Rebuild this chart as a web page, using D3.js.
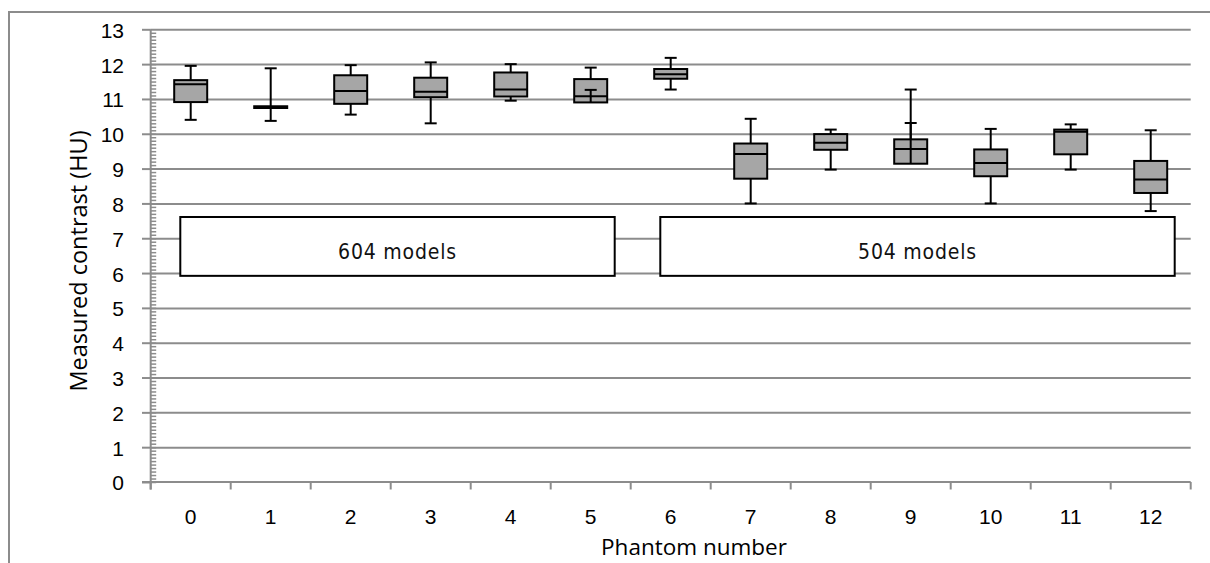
<!DOCTYPE html>
<html>
<head>
<meta charset="utf-8">
<script src="https://cdn.jsdelivr.net/npm/d3@7/dist/d3.min.js"></script>
<style>
  body { margin: 0; background: #fff; }
  svg { display: block; font-family: "Open Sans", sans-serif; }
</style>
</head>
<body>
<div id="canvas"></div>
<script>
// phantom numbers and box-plot statistics (HU)
var phantoms = [0, 1, 2, 3, 4, 5, 6, 7, 8, 9, 10, 11, 12];
var maxVals  = [11.95, 11.88, 11.97, 12.05, 12.00, 11.90, 12.18, 10.43, 10.12, 11.27, 10.14, 10.27, 10.10];
var q3Vals   = [11.54, 10.79, 11.68, 11.61, 11.76, 11.57, 11.86, 9.72, 9.99, 9.84, 9.55, 10.12, 9.22];
var medians  = [11.42, 10.76, 11.23, 11.21, 11.27, 11.08, 11.71, 9.42, 9.74, 9.56, 9.16, 10.06, 8.69];
var q1Vals   = [10.91, 10.74, 10.86, 11.05, 11.07, 10.90, 11.58, 8.71, 9.54, 9.14, 8.78, 9.41, 8.30];
var minVals  = [10.40, 10.37, 10.55, 10.30, 10.95, 11.26, 11.27, 8.00, 8.97, 10.31, 8.00, 8.97, 7.78];

var yTicks = [0, 1, 2, 3, 4, 5, 6, 7, 8, 9, 10, 11, 12, 13];

// model groups shown as labelled boxes
var groupLabels = ["604 models", "504 models"];
var groupFirst  = [0, 6];
var groupLast   = [5, 12];
var groupLow = 5.92, groupHigh = 7.61;

var W = 1210, H = 563;
var margin = {left: 150.7, right: 19.3, top: 29.3, bottom: 81};
var width = W - margin.left - margin.right,
  height = H - margin.top - margin.bottom;

var grey = "#8c8c8c";

var svg = d3.select("#canvas")
  .append("svg")
  .attr("width", W)
  .attr("height", H);

// outer chart border (cropped at right and bottom)
svg.append("rect")
  .attr("x", 9).attr("y", 12)
  .attr("width", 1400).attr("height", 700)
  .attr("fill", "none")
  .attr("stroke", grey)
  .attr("stroke-width", 2);

var g = svg.append("g")
  .attr("transform", "translate(" + margin.left + ", " + margin.top + ")");

var x = d3.scaleBand()
  .domain(phantoms)
  .range([0, width])
  .padding(0);

var y = d3.scaleLinear()
  .domain([0, 13])
  .range([height, 0]);

// gridlines
g.append("g")
  .attr("class", "grid")
  .call(d3.axisLeft(y).tickValues(yTicks.slice(1)).tickSize(-width).tickFormat(""))
  .call(s => s.select(".domain").remove())
  .selectAll("line")
  .attr("stroke", grey)
  .attr("stroke-width", 2);

// minor ticks on the inside of the y axis
g.append("g")
  .call(d3.axisRight(y).tickValues(d3.range(0, 130).map(d => d / 10)).tickSize(5.5).tickFormat(""))
  .call(s => s.select(".domain").remove())
  .selectAll("line")
  .attr("stroke", grey)
  .attr("stroke-width", 1.5);

// y axis
var yAxisG = g.append("g")
  .attr("class", "y-axis")
  .call(d3.axisLeft(y).tickValues(yTicks).tickSize(8.7).tickPadding(18));
yAxisG.select(".domain").remove();
yAxisG.selectAll("line").attr("stroke", grey).attr("stroke-width", 2);
yAxisG.selectAll("text")
  .attr("fill", "#000")
  .style("font-size", "21px")
  .attr("dy", "0.38em");

// x axis with ticks at band edges
var xAxisG = g.append("g")
  .attr("class", "x-axis")
  .attr("transform", `translate(0,${height})`)
  .call(d3.axisBottom(x).tickSize(0).tickPadding(27));
xAxisG.select(".domain").remove();
xAxisG.selectAll("text")
  .attr("fill", "#000")
  .style("font-size", "21px");

var edges = phantoms.map(p => x(p)).concat([width]);
xAxisG.selectAll(".edge")
  .data(edges)
  .enter()
  .append("line")
  .attr("class", "edge")
  .attr("x1", d => d).attr("x2", d => d)
  .attr("y1", 0).attr("y2", 7.5)
  .attr("stroke", grey)
  .attr("stroke-width", 2);

g.append("line")
  .attr("x1", -8.7).attr("x2", width)
  .attr("y1", height).attr("y2", height)
  .attr("stroke", grey).attr("stroke-width", 2);
g.append("line")
  .attr("x1", 0).attr("x2", 0)
  .attr("y1", 0).attr("y2", height + 7.5)
  .attr("stroke", grey).attr("stroke-width", 2);

// group annotation boxes
var bw = x.bandwidth();
var groups = g.selectAll(".group")
  .data(groupLabels)
  .enter()
  .append("g")
  .attr("class", "group");

groups.append("rect")
  .attr("x", (d, i) => x(groupFirst[i]) + bw * 0.37)
  .attr("width", (d, i) => x(groupLast[i]) + bw * 0.8 - x(groupFirst[i]) - bw * 0.37)
  .attr("y", y(groupHigh))
  .attr("height", y(groupLow) - y(groupHigh))
  .attr("fill", "#fff")
  .attr("stroke", "#000")
  .attr("stroke-width", 2);

groups.append("text")
  .attr("x", (d, i) => (x(groupFirst[i]) + bw * 0.37 + x(groupLast[i]) + bw * 0.8) / 2)
  .attr("y", y((groupLow + groupHigh) / 2) + 13)
  .attr("text-anchor", "middle")
  .style("font-family", "'DejaVu Sans Condensed', 'DejaVu Sans', sans-serif")
  .style("font-size", "21px")
  .style("letter-spacing", "0.8px")
  .attr("fill", "#111")
  .text(d => d);

// box plots
var boxW = 33, capW = 12;
var boxes = g.selectAll(".box")
  .data(phantoms)
  .enter()
  .append("g")
  .attr("class", "box")
  .attr("transform", d => `translate(${x(d) + bw / 2},0)`);

// upper whisker: q3 -> max
boxes.append("line")
  .attr("x1", 0).attr("x2", 0)
  .attr("y1", (d, i) => y(q3Vals[i]))
  .attr("y2", (d, i) => y(maxVals[i]))
  .attr("stroke", "#000").attr("stroke-width", 2);
boxes.append("line")
  .attr("x1", -capW / 2).attr("x2", capW / 2)
  .attr("y1", (d, i) => y(maxVals[i]))
  .attr("y2", (d, i) => y(maxVals[i]))
  .attr("stroke", "#000").attr("stroke-width", 2);

boxes.append("rect")
  .attr("x", -boxW / 2)
  .attr("width", boxW)
  .attr("y", (d, i) => y(q3Vals[i]))
  .attr("height", (d, i) => y(q1Vals[i]) - y(q3Vals[i]))
  .attr("fill", "#a6a6a6")
  .attr("stroke", "#000")
  .attr("stroke-width", 2);

boxes.append("line")
  .attr("x1", -boxW / 2).attr("x2", boxW / 2)
  .attr("y1", (d, i) => y(medians[i]))
  .attr("y2", (d, i) => y(medians[i]))
  .attr("stroke", "#000").attr("stroke-width", 2);

// lower whisker: q1 -> min
boxes.append("line")
  .attr("x1", 0).attr("x2", 0)
  .attr("y1", (d, i) => y(q1Vals[i]))
  .attr("y2", (d, i) => y(minVals[i]))
  .attr("stroke", "#000").attr("stroke-width", 2);
boxes.append("line")
  .attr("x1", -capW / 2).attr("x2", capW / 2)
  .attr("y1", (d, i) => y(minVals[i]))
  .attr("y2", (d, i) => y(minVals[i]))
  .attr("stroke", "#000").attr("stroke-width", 2);

// axis titles
svg.append("text")
  .attr("transform", "translate(87, 261) rotate(-90)")
  .attr("text-anchor", "middle")
  .style("font-size", "23.5px")
  .attr("fill", "#000")
  .text("Measured contrast (HU)");

svg.append("text")
  .attr("x", 694)
  .attr("y", 555)
  .attr("text-anchor", "middle")
  .style("font-size", "22.5px")
  .attr("fill", "#000")
  .text("Phantom number");
</script>
</body>
</html>
